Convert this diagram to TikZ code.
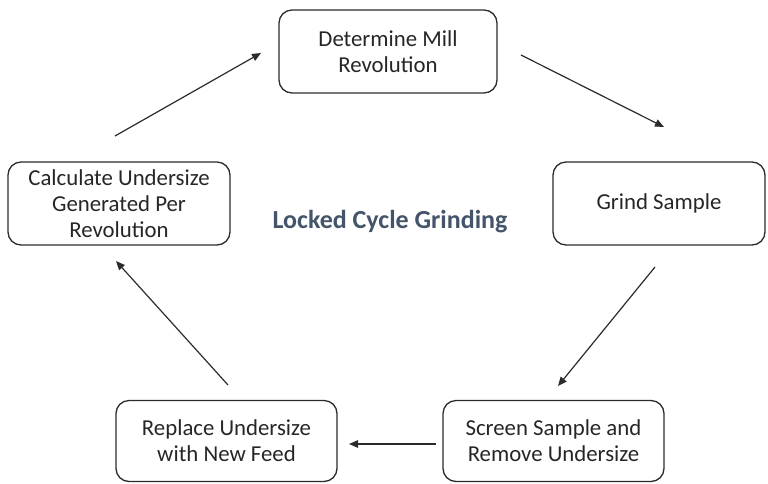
\documentclass[tikz,border=0pt]{standalone}
\usepackage{fontspec}
\setmainfont{Carlito}
\usetikzlibrary{arrows.meta}
\definecolor{titleblue}{HTML}{44546A}
\definecolor{linegrey}{HTML}{2B2B2B}
\tikzset{
  stepbox/.style={draw=linegrey, line width=1.3pt, rounded corners=13pt, align=center,
    inner sep=0pt, font=\fontsize{22.8}{26}\selectfont, text=black!85},
  flow/.style={draw=linegrey, line width=1.2pt, -{Triangle[length=9pt,width=7.5pt]}}
}
\begin{document}
\begin{tikzpicture}[x=1pt,y=-1pt]
\useasboundingbox (0,0) rectangle (768,483);
\node[stepbox, minimum width=218pt, minimum height=83pt] (mill) at (388,51.5) {Determine Mill\\Revolution};
\node[stepbox, minimum width=212pt, minimum height=83pt] (grind) at (659,203.5) {Grind Sample};
\node[stepbox, minimum width=222pt, minimum height=83pt] (calc) at (119,203.5) {Calculate Undersize\\Generated Per\\Revolution};
\node[stepbox, minimum width=221pt, minimum height=81pt] (replace) at (226.5,441) {Replace Undersize\\with New Feed};
\node[stepbox, minimum width=221pt, minimum height=81pt] (screen) at (553.5,441) {Screen Sample and\\Remove Undersize};
\node[font=\bfseries\fontsize{26}{31}\selectfont, text=titleblue] (title) at (390,222) {Locked Cycle Grinding};

\coordinate (a1s) at (115,136); \coordinate (a1e) at (261,53);
\coordinate (a2s) at (521,55);  \coordinate (a2e) at (664,127);
\coordinate (a3s) at (655,267); \coordinate (a3e) at (558,386);
\coordinate (a4s) at (436,444); \coordinate (a4e) at (349,444);
\coordinate (a5s) at (228,385); \coordinate (a5e) at (116,261);

\draw[flow] (a1s) -- (a1e);
\draw[flow] (a2s) -- (a2e);
\draw[flow] (a3s) -- (a3e);
\draw[flow] (a4s) -- (a4e);
\draw[flow] (a5s) -- (a5e);
\end{tikzpicture}
\end{document}
